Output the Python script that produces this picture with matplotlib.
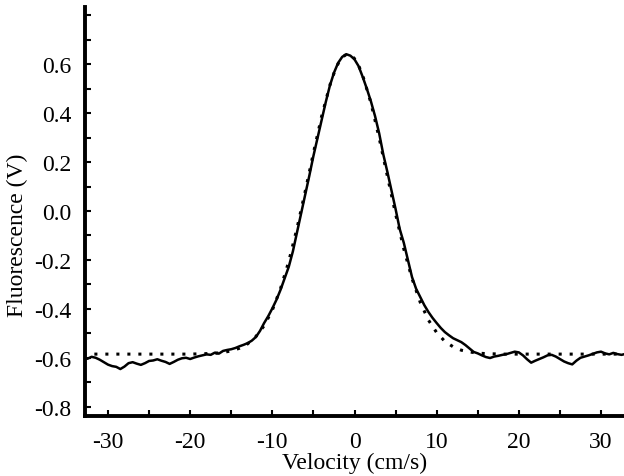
import numpy as np
import matplotlib.pyplot as plt
from matplotlib.ticker import MultipleLocator, FixedLocator

plt.rcParams['font.family'] = ['Liberation Serif', 'DejaVu Serif']
plt.rcParams['axes.unicode_minus'] = False

velocidade = np.arange(-33, 33.01, 0.5)
sinal = [
    -0.600, -0.604, -0.596, -0.600, -0.608, -0.618, -0.628, -0.634, -0.637, -0.646,
    -0.636, -0.622, -0.618, -0.624, -0.629, -0.622, -0.613, -0.611, -0.606, -0.612,
    -0.617, -0.625, -0.617, -0.608, -0.602, -0.600, -0.605, -0.599, -0.594, -0.590,
    -0.586, -0.588, -0.579, -0.583, -0.572, -0.568, -0.565, -0.560, -0.553, -0.547,
    -0.540, -0.530, -0.515, -0.490, -0.458, -0.430, -0.398, -0.363, -0.322, -0.275,
    -0.228, -0.165, -0.088, -0.010, 0.065, 0.144, 0.225, 0.298, 0.372, 0.445,
    0.512, 0.565, 0.605, 0.630, 0.641, 0.635, 0.620, 0.592, 0.548, 0.500,
    0.448, 0.388, 0.318, 0.232, 0.160, 0.085, 0.008, -0.073, -0.130, -0.200,
    -0.270, -0.318, -0.352, -0.385, -0.413, -0.437, -0.458, -0.478, -0.495, -0.508,
    -0.520, -0.528, -0.536, -0.548, -0.562, -0.576, -0.582, -0.590, -0.597, -0.601,
    -0.595, -0.592, -0.588, -0.585, -0.580, -0.575, -0.578, -0.590, -0.606, -0.620,
    -0.612, -0.605, -0.598, -0.590, -0.588, -0.595, -0.605, -0.615, -0.622, -0.627,
    -0.612, -0.600, -0.595, -0.590, -0.584, -0.578, -0.575, -0.582, -0.586, -0.580,
    -0.585, -0.588, -0.584,
]

# fitted curve (dotted)
vel_ajuste = [-33, -25, -20, -19, -18, -17, -16, -15, -14, -13, -12, -11, -10, -9, -8, -7, -6,
              -5, -4, -3, -2.5, -2, -1.5, -1, -0.5, 0, 0.5, 1, 2, 3, 4, 5, 6, 7, 8, 9, 10,
              11, 12, 13, 14, 15, 16, 17, 18, 25, 33]
ajuste = [-0.585, -0.585, -0.585, -0.584, -0.583, -0.582, -0.578, -0.572, -0.561, -0.543,
          -0.513, -0.469, -0.405, -0.317, -0.206, -0.071, 0.080, 0.237, 0.387, 0.514,
          0.563, 0.602, 0.628, 0.640, 0.639, 0.623, 0.595, 0.554, 0.442, 0.299, 0.143,
          -0.012, -0.155, -0.276, -0.373, -0.446, -0.497, -0.533, -0.555, -0.569, -0.576,
          -0.581, -0.583, -0.584, -0.585, -0.585, -0.585]

y_rotulos = [-0.8, -0.6, -0.4, -0.2, 0.0, 0.2, 0.4, 0.6]

fig = plt.figure(figsize=(6.24, 4.77), dpi=100)
ax = fig.add_axes([85 / 624, 60 / 477, 539 / 624, 409 / 477])

ax.plot(velocidade, sinal, color='black', linewidth=1.8)
ax.plot(vel_ajuste, ajuste, color='black', linewidth=2.2, linestyle=(0, (1, 2.6)))

ax.set_xlim(-32.8, 32.8)
ax.set_ylim(-0.838, 0.834)

for lado in ['top', 'right']:
    ax.spines[lado].set_visible(False)
for lado in ['left', 'bottom']:
    ax.spines[lado].set_linewidth(2.8)

ax.xaxis.set_major_locator(MultipleLocator(10))
ax.xaxis.set_minor_locator(MultipleLocator(5))
ax.yaxis.set_major_locator(FixedLocator(y_rotulos))
ax.yaxis.set_minor_locator(MultipleLocator(0.1))
ax.yaxis.set_major_formatter(lambda v, p: f'{v:.1f}')
ax.xaxis.set_major_formatter(lambda v, p: f'{v:.0f}')

ax.tick_params(which='both', direction='in', length=4, width=1.5, labelsize=17)
ax.tick_params(axis='y', pad=10)
ax.tick_params(axis='x', pad=11)

ax.set_xlabel('Velocity (cm/s)', fontsize=17, labelpad=0)
ax.set_ylabel('Fluorescence (V)', fontsize=17)
ax.yaxis.set_label_coords(-0.106, 0.445)

fig.savefig('out.png', dpi=100)
